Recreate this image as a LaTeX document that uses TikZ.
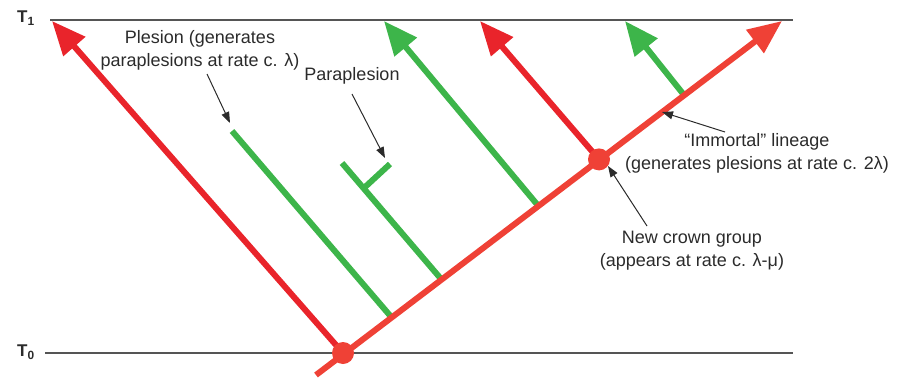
\documentclass[tikz,border=0pt]{standalone}
\usepackage{fontspec}
\setmainfont{Liberation Sans}
\usetikzlibrary{arrows.meta}
\definecolor{redA}{HTML}{E9242B}
\definecolor{redB}{HTML}{EF4136}
\definecolor{grn}{HTML}{3DB54A}
\definecolor{txt}{HTML}{2B2B2B}
\definecolor{axis}{HTML}{555555}
\tikzset{
  timeline/.style={draw=axis, line width=1.6pt},
  tlabel/.style={font=\bfseries\fontsize{17}{17}\selectfont, text=txt, inner sep=0pt},
  redline/.style={draw=redA, line width=6pt, line cap=butt},
  immortal/.style={draw=redB, line width=6pt, line cap=butt},
  greenline/.style={draw=grn, line width=6pt, line cap=butt},
  bigtip/.style={-{Triangle[length=34pt,width=28pt]}},
  dot/.style={circle, fill=redB, minimum size=22pt, inner sep=0pt},
  note/.style={font=\fontsize{18}{23}\selectfont, text=txt, align=center, inner sep=0pt},
  pointer/.style={draw=txt, line width=1pt, -{Triangle[length=11pt,width=8pt]}}
}
\begin{document}
\begin{tikzpicture}[x=1pt,y=-1pt]
\useasboundingbox (0,0) rectangle (907,380);
% time lines
\coordinate (t1a) at (50,20); \coordinate (t1b) at (793,20);
\coordinate (t0a) at (45,353); \coordinate (t0b) at (793,353);
\draw[timeline] (t1a) -- (t1b);
\draw[timeline] (t0a) -- (t0b);
\node[tlabel] (T1) at (26,18) {T\textsubscript{1}};
\node[tlabel] (T0) at (26,352) {T\textsubscript{0}};
% key points
\coordinate (root) at (343,353);
\coordinate (start) at (316,375);
\coordinate (tipI) at (782,21);
\coordinate (cg) at (599,159.4);
\coordinate (tipL) at (52,21);
\coordinate (tipC) at (480,21);
\coordinate (g1b) at (538,205.5); \coordinate (g1t) at (384,21);
\coordinate (g2b) at (684,95); \coordinate (g2t) at (625,21);
\coordinate (p1a) at (232,131); \coordinate (p1b) at (391,316.7);
\coordinate (p2a) at (342,163); \coordinate (p2b) at (441,278.9);
\coordinate (p3a) at (364,188); \coordinate (p3b) at (390,164);
% green lineages
\draw[greenline] (p1a) -- (p1b);
\draw[greenline] (p2a) -- (p2b);
\draw[greenline] (p3a) -- (p3b);
\draw[greenline, bigtip] (g1b) -- (g1t);
\draw[greenline, bigtip] (g2b) -- (g2t);
% red lineages
\draw[redline, bigtip] (root) -- (tipL);
\draw[redline, bigtip] (cg) -- (tipC);
\draw[immortal, bigtip] (start) -- (tipI);
\node[dot] (n0) at (root) {};
\node[dot] (n1) at (cg) {};
% annotations
\node[note] (plesion) at (200,50) {Plesion (generates\\paraplesions at rate c. λ)};
\coordinate (plA) at (207,74); \coordinate (plB) at (230,123);
\draw[pointer] (plA) -- (plB);
\node[note] (para) at (352,76) {Paraplesion};
\coordinate (paA) at (352,94); \coordinate (paB) at (385,158);
\draw[pointer] (paA) -- (paB);
\node[note] (imm) at (757,153) {“Immortal” lineage\\(generates plesions at rate c. 2λ)};
\coordinate (imA) at (725,132); \coordinate (imB) at (662,112);
\draw[pointer] (imA) -- (imB);
\node[note] (crown) at (692,251) {New crown group\\(appears at rate c. λ-μ)};
\coordinate (crA) at (647,226); \coordinate (crB) at (608,166);
\draw[pointer] (crA) -- (crB);
\end{tikzpicture}
\end{document}
